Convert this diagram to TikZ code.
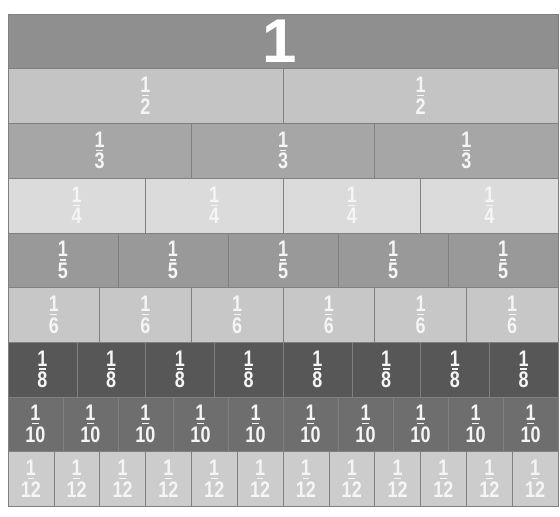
\documentclass[tikz,border=0pt]{standalone}
\usepackage{fontspec}
\setmainfont{Liberation Sans}
\newfontfamily\wallfont{Liberation Sans}[FakeStretch=0.8]
\usetikzlibrary{positioning}

\definecolor{wallone}{gray}{0.56}
\definecolor{wallhalf}{gray}{0.77}
\definecolor{wallthird}{gray}{0.65}
\definecolor{wallquarter}{gray}{0.86}
\definecolor{wallfifth}{gray}{0.60}
\definecolor{wallsixth}{gray}{0.78}
\definecolor{walleighth}{gray}{0.34}
\definecolor{walltenth}{gray}{0.43}
\definecolor{walltwelfth}{gray}{0.80}
\definecolor{digit}{gray}{0.96}

% stacked unit fraction: 1 over #1
\newcommand{\unitfrac}[1]{\vbox{\offinterlineskip\halign{\hfil##\hfil\cr
  1\cr\noalign{\kern3.2pt}\rule{0.3em}{1.8pt}\cr\noalign{\kern3.2pt}#1\cr}}}

\tikzset{
  cell/.style={draw=black!50,line width=0.5pt},
  frac/.style={inner sep=0pt,text=digit,font=\wallfont\bfseries\fontsize{32}{34}\selectfont},
  whole/.style={inner sep=0pt,text=white,font=\bfseries\fontsize{88}{90}\selectfont}
}

\begin{document}
\begin{tikzpicture}[x=0.05cm,y=-0.05cm]
  \useasboundingbox[fill=white] (0,0) rectangle (560,516);
  % top bar
  \draw[cell,fill=wallone] (8,14) rectangle (558,68.67);
  \node[whole] (one) at (280,41) {1};
  % the rows of unit fractions
  \foreach \d/\c [count=\r] in {2/wallhalf,3/wallthird,4/wallquarter,5/wallfifth,
      6/wallsixth,8/walleighth,10/walltenth,12/walltwelfth} {
    \pgfmathsetmacro\rowy{14+54.67*\r}
    \pgfmathsetmacro\w{550/\d}
    \foreach \i in {1,...,\d} {
      \draw[cell,fill=\c] ({8+(\i-1)*\w},\rowy) rectangle ++(\w,54.67);
      \node[frac] (f\d-\i) at ({8+(\i-0.5)*\w},{\rowy+27.3}) {\unitfrac{\d}};
    }
  }
\end{tikzpicture}
\end{document}
